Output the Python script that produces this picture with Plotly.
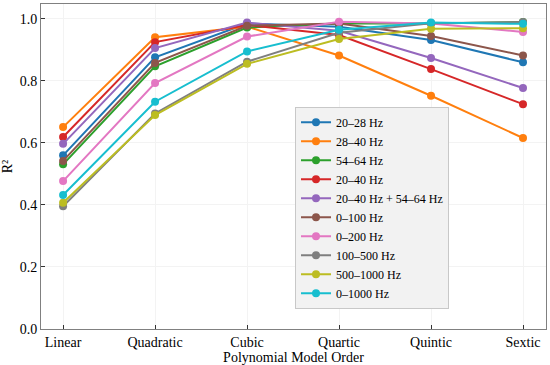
import plotly.graph_objects as go

orders = ["Linear", "Quadratic", "Cubic", "Quartic", "Quintic", "Sextic"]

s_20_28 = [0.560, 0.876, 0.985, 0.975, 0.932, 0.860]
s_28_40 = [0.651, 0.941, 0.975, 0.882, 0.752, 0.616]
s_54_64 = [0.531, 0.847, 0.972, 0.985, 0.985, 0.990]
s_20_40 = [0.619, 0.925, 0.980, 0.948, 0.838, 0.725]
s_20_40_54_64 = [0.597, 0.906, 0.988, 0.962, 0.874, 0.777]
s_0_100 = [0.542, 0.858, 0.978, 0.985, 0.945, 0.882]
s_0_200 = [0.477, 0.793, 0.943, 0.991, 0.985, 0.958]
s_100_500 = [0.396, 0.695, 0.862, 0.955, 0.986, 0.990]
s_500_1000 = [0.407, 0.690, 0.855, 0.935, 0.968, 0.970]
s_0_1000 = [0.432, 0.733, 0.895, 0.965, 0.988, 0.984]

names = ["20–28 Hz", "28–40 Hz", "54–64 Hz", "20–40 Hz", "20–40 Hz + 54–64 Hz",
         "0–100 Hz", "0–200 Hz", "100–500 Hz", "500–1000 Hz", "0–1000 Hz"]
series = [s_20_28, s_28_40, s_54_64, s_20_40, s_20_40_54_64,
          s_0_100, s_0_200, s_100_500, s_500_1000, s_0_1000]
colors = ["#1f77b4", "#ff7f0e", "#2ca02c", "#d62728", "#9467bd",
          "#8c564b", "#e377c2", "#7f7f7f", "#bcbd22", "#17becf"]

fig = go.Figure()
for n, s, c in zip(names, series, colors):
    fig.add_trace(go.Scatter(
        x=list(range(len(orders))), y=s, name=n, mode="lines+markers",
        line=dict(color=c, width=2), marker=dict(color=c, size=8)))

font = "Liberation Serif, Times New Roman, serif"
fig.update_layout(
    width=550, height=365,
    margin=dict(l=41, r=4, t=4, b=36, autoexpand=False),
    paper_bgcolor="white", plot_bgcolor="white",
    font=dict(family=font, size=14, color="black"),
    showlegend=True,
    legend=dict(x=0.503, y=0.062, xanchor="left", yanchor="bottom",
                bgcolor="#f2f2f2", bordercolor="#c8c8c8", borderwidth=1,
                font=dict(family=font, size=12), itemwidth=30,
                tracegroupgap=0),
)
fig.update_xaxes(
    range=[-0.24, 5.25], tickmode="array", tickvals=list(range(len(orders))),
    ticktext=orders, ticks="inside", ticklen=4, tickcolor="#333",
    showline=True, linecolor="#808080", linewidth=1, mirror=True,
    showgrid=True, gridcolor="#f3f3f3", gridwidth=1, zeroline=False,
    title=dict(text="Polynomial Model Order", standoff=0, font=dict(size=14)),
    tickfont=dict(size=14), automargin=False)
fig.update_yaxes(
    range=[0, 1.048], tickvals=[0, 0.2, 0.4, 0.6, 0.8, 1.0],
    tickformat=".1f", ticks="inside", ticklen=4, tickcolor="#333",
    showline=True, linecolor="#808080", linewidth=1, mirror=True,
    showgrid=True, gridcolor="#f3f3f3", gridwidth=1, zeroline=False,
    title=dict(text="R²", standoff=6, font=dict(size=14)),
    tickfont=dict(size=14), automargin=False)

fig.write_html("out.html", config={"displayModeBar": False},
               post_script="document.body.style.margin='0';document.body.style.overflow='hidden';")
